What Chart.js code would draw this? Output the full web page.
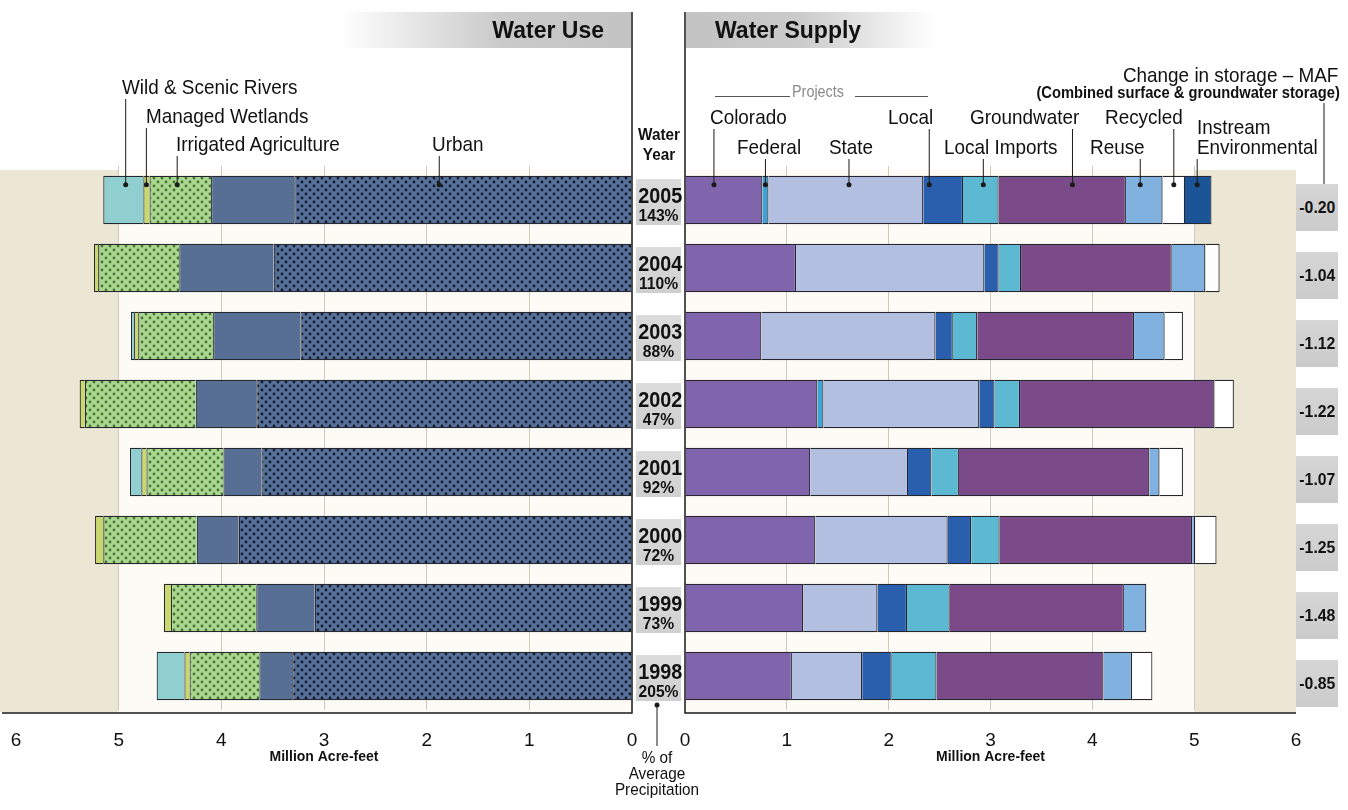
<!DOCTYPE html>
<html>
<head>
<meta charset="utf-8">
<script src="https://cdn.jsdelivr.net/npm/chart.js@4.4.1/dist/chart.umd.min.js"></script>
<style>
body{margin:0;background:#fff;}
#wrap{position:relative;width:1348px;height:810px;overflow:hidden;font-family:"Liberation Sans",Arial,sans-serif;color:#111;}
canvas{position:absolute;top:0;}
.lab{position:absolute;white-space:nowrap;font-size:21px;line-height:1;transform:translateY(-50%) scaleX(0.9);transform-origin:left center;}
.head{position:absolute;top:12px;height:36px;line-height:36px;font-weight:bold;font-size:23px;}
.yr{position:absolute;left:636px;width:45px;height:46px;background:linear-gradient(#dcdcdc,#cfcfcf);text-align:center;font-weight:bold;}
.yr b{display:block;font-size:22px;line-height:22px;margin-top:6px;transform:scaleX(0.9);}
.yr span{display:block;font-size:17px;line-height:18px;transform:scaleX(0.92);}
.st{position:absolute;left:1296px;width:42px;height:47px;background:linear-gradient(#d6d6d6,#cbcbcb);text-align:center;font-weight:bold;font-size:17px;}
.st span{display:inline-block;transform:scaleX(0.93);}
</style>
</head>
<body>
<div id="wrap">
<canvas id="useChart" width="660" height="810" style="left:0"></canvas>
<canvas id="supplyChart" width="688" height="810" style="left:660px"></canvas>
</div>
<script>
// water years, top to bottom
var years = ['2005', '2004', '2003', '2002', '2001', '2000', '1999', '1998'];
var precip = ['143%', '110%', '88%', '47%', '92%', '72%', '73%', '205%'];
var storageChange = ['-0.20', '-1.04', '-1.12', '-1.22', '-1.07', '-1.25', '-1.48', '-0.85'];
var axisTicks = [0, 1, 2, 3, 4, 5, 6];

// water use, million acre-feet (stacked outward from 0)
var urbanDotted = [3.29, 3.49, 3.23, 3.66, 3.61, 3.83, 3.09, 3.31];
var urbanSolid = [0.81, 0.92, 0.85, 0.59, 0.37, 0.41, 0.57, 0.32];
var irrigatedAg = [0.60, 0.79, 0.73, 1.08, 0.75, 0.91, 0.83, 0.68];
var wetlands = [0.06, 0.04, 0.04, 0.05, 0.05, 0.08, 0.07, 0.05];
var wildScenic = [0.39, 0, 0.03, 0, 0.11, 0, 0, 0.27];

// water supply, million acre-feet
var colorado = [0.76, 1.09, 0.75, 1.30, 1.23, 1.28, 1.16, 1.05];
var federal = [0.06, 0, 0, 0.06, 0, 0, 0, 0];
var stateProj = [1.52, 1.85, 1.71, 1.53, 0.96, 1.30, 0.73, 0.69];
var localProj = [0.39, 0.14, 0.17, 0.15, 0.23, 0.23, 0.29, 0.29];
var localImports = [0.35, 0.22, 0.24, 0.25, 0.27, 0.28, 0.42, 0.44];
var groundwater = [1.25, 1.48, 1.54, 1.91, 1.87, 1.89, 1.71, 1.64];
var reuse = [0.36, 0.33, 0.30, 0, 0.10, 0.03, 0.22, 0.28];
var recycled = [0.22, 0.14, 0.18, 0.19, 0.23, 0.21, 0, 0.20];
var instream = [0.26, 0, 0, 0, 0, 0, 0, 0];

var FONT = '"Liberation Sans", Arial, sans-serif';

function dots(base, dot){
    var c = document.createElement('canvas');
    c.width = 8; c.height = 8;
    var g = c.getContext('2d');
    g.fillStyle = base; g.fillRect(0, 0, 8, 8);
    g.fillStyle = dot;
    [[2, 2], [6, 6]].forEach(function(p){
        g.beginPath(); g.arc(p[0], p[1], 1.4, 0, Math.PI * 2); g.fill();
    });
    return g.createPattern(c, 'repeat');
}

function ds(label, data, color){
    return {label: label, data: data, backgroundColor: color, borderColor: '#26262e', borderWidth: 1.2,
            barPercentage: 0.71, categoryPercentage: 1};
}

// labels with leader lines (text spot, dataset, where on the 2005 bar)
var useLabels = [
    {text: 'Wild & Scenic Rivers', left: 122, top: 86, ds: 4, frac: 0.44, lineTop: 99},
    {text: 'Managed Wetlands', left: 146, top: 115, ds: 3, frac: 0.5, lineTop: 128},
    {text: 'Irrigated Agriculture', left: 176, top: 143, ds: 2, frac: 0.55, lineTop: 156},
    {text: 'Urban', left: 432, top: 143, ds: 0, frac: 0.57, lineTop: 156}
];
var supplyLabels = [
    {text: 'Colorado', left: 710, top: 116, ds: 0, frac: 0.37, lineTop: 129},
    {text: 'Federal', left: 737, top: 146, ds: 1, frac: 0.5, lineTop: 159},
    {text: 'State', left: 829, top: 146, ds: 2, frac: 0.52, lineTop: 159},
    {text: 'Local', left: 888, top: 116, ds: 3, frac: 0.15, lineTop: 129},
    {text: 'Local Imports', left: 944, top: 146, ds: 4, frac: 0.57, lineTop: 159},
    {text: 'Groundwater', left: 970, top: 116, ds: 5, frac: 0.58, lineTop: 129},
    {text: 'Recycled', left: 1105, top: 116, ds: 7, frac: 0.5, lineTop: 129},
    {text: 'Reuse', left: 1090, top: 146, ds: 6, frac: 0.39, lineTop: 159},
    {text: 'Instream<br>Environmental', left: 1197, top: 137, ds: 8, frac: 0.46, lineTop: 159}
];

function panelPlugin(labels, offsetX, side){
    return {
        id: 'panel' + side,
        beforeDraw: function(chart){
            var c = chart.ctx, a = chart.chartArea, x = chart.scales.x;
            var x0 = x.getPixelForValue(0), x5 = x.getPixelForValue(5), x6 = x.getPixelForValue(6);
            c.save();
            c.fillStyle = '#fcfbf6';
            c.fillRect(Math.min(x0, x5), a.top + 4, Math.abs(x5 - x0), a.bottom - a.top - 2);
            c.fillStyle = '#ece7d5';
            if (side === 'L') c.fillRect(0, a.top + 4, x5, a.bottom - a.top - 2);
            else c.fillRect(x5, a.top + 4, x6 - x5, a.bottom - a.top - 2);
            c.restore();
        },
        afterDatasetsDraw: function(chart){
            var c = chart.ctx, a = chart.chartArea, x = chart.scales.x;
            var x0 = x.getPixelForValue(0);
            c.save();
            c.strokeStyle = '#1a1a1a';
            c.lineWidth = 1.5;
            c.beginPath();
            c.moveTo(x0, 12); c.lineTo(x0, a.bottom + 3);
            if (side === 'L') c.lineTo(2, a.bottom + 3);
            else c.lineTo(x.getPixelForValue(6), a.bottom + 3);
            c.stroke();
            c.lineWidth = 1;
            c.fillStyle = '#1a1a1a';
            labels.forEach(function(l){
                var bar = chart.getDatasetMeta(l.ds).data[0];
                var px = bar.base + (bar.x - bar.base) * l.frac;
                var py = bar.y - bar.height / 2 + 9;
                c.beginPath(); c.moveTo(px, l.lineTop); c.lineTo(px, py); c.stroke();
                c.beginPath(); c.arc(px, py, 2.5, 0, Math.PI * 2); c.fill();
            });
            if (side === 'R') {
                // change in storage leader
                var sx = 1324 - offsetX, sy = chart.scales.y.getPixelForValue(0) - 11;
                c.beginPath(); c.moveTo(sx, 103); c.lineTo(sx, sy); c.stroke();
                c.beginPath(); c.arc(sx, sy, 2.5, 0, Math.PI * 2); c.fill();
            } else {
                // % of average precipitation leader
                var lx = 657, ly = a.bottom - 5;
                c.beginPath(); c.moveTo(lx, ly); c.lineTo(lx, 746); c.stroke();
                c.beginPath(); c.arc(lx, ly, 2.5, 0, Math.PI * 2); c.fill();
            }
            c.restore();
        }
    };
}

function xScale(reverse){
    return {
        stacked: true, reverse: reverse, min: 0, max: 6,
        afterBuildTicks: function(s){ s.ticks = axisTicks.map(function(v){ return {value: v}; }); },
        afterFit: function(s){ s.height = 100; },
        ticks: {color: '#111', font: {family: FONT, size: 19}, padding: 19},
        grid: {drawTicks: false,
               color: function(ctx){ var v = ctx.tick ? ctx.tick.value : 0; return (v === 0 || v === 6) ? 'rgba(0,0,0,0)' : '#cfcabb'; }},
        border: {display: false},
        title: {display: true, text: 'Million Acre-feet', color: '#111',
                font: {family: FONT, size: 14, weight: 'bold'}, padding: {top: 0, bottom: 44}}
    };
}

var useChart = new Chart(document.getElementById('useChart').getContext('2d'), {
    type: 'bar',
    data: {
        labels: years,
        datasets: [
            ds('Urban', urbanDotted, dots('#55709a', '#141a26')),
            ds('Urban', urbanSolid, '#586f95'),
            ds('Irrigated Agriculture', irrigatedAg, dots('#a8d68d', '#46743a')),
            ds('Managed Wetlands', wetlands, '#c9d86c'),
            ds('Wild & Scenic Rivers', wildScenic, '#90cfd0')
        ]
    },
    options: {
        indexAxis: 'y', responsive: false, animation: false,
        layout: {padding: {left: 16, right: 28, top: 166, bottom: 0}},
        plugins: {legend: {display: false}, tooltip: {enabled: false}},
        scales: {x: xScale(true), y: {stacked: true, display: false}}
    },
    plugins: [panelPlugin(useLabels, 0, 'L')]
});

var supplyChart = new Chart(document.getElementById('supplyChart').getContext('2d'), {
    type: 'bar',
    data: {
        labels: years,
        datasets: [
            ds('Colorado', colorado, '#8165ac'),
            ds('Federal', federal, '#3fa3d6'),
            ds('State', stateProj, '#b3bfe0'),
            ds('Local', localProj, '#2a5fad'),
            ds('Local Imports', localImports, '#5db8d2'),
            ds('Groundwater', groundwater, '#7a4b88'),
            ds('Reuse', reuse, '#80b1df'),
            ds('Recycled', recycled, '#ffffff'),
            ds('Instream Environmental', instream, '#1b5597')
        ]
    },
    options: {
        indexAxis: 'y', responsive: false, animation: false,
        layout: {padding: {left: 25, right: 52, top: 166, bottom: 0}},
        plugins: {legend: {display: false}, tooltip: {enabled: false}},
        scales: {x: xScale(false), y: {stacked: true, display: false}}
    },
    plugins: [panelPlugin(supplyLabels, 660, 'R')]
});

// text: headers, labels, year and storage boxes
var wrap = document.getElementById('wrap');
function add(html, cls, style){
    var d = document.createElement('div');
    d.className = cls; d.innerHTML = html; d.style.cssText = style;
    wrap.appendChild(d);
    return d;
}
add('Water Use', 'head', 'left:340px;width:264px;padding-right:27px;text-align:right;background:linear-gradient(to right,rgba(200,200,200,0),#cacaca 55%,#c3c3c3);');
add('Water Supply', 'head', 'left:686px;width:220px;padding-left:29px;background:linear-gradient(to right,#c3c3c3,#cacaca 45%,rgba(200,200,200,0));');

useLabels.concat(supplyLabels).forEach(function(l){
    add(l.text, 'lab', 'left:' + l.left + 'px;top:' + l.top + 'px;' + (l.text.indexOf('<br>') > 0 ? 'line-height:20px;' : ''));
});
add('Water<br>Year', 'lab', 'left:634px;width:50px;top:145px;text-align:center;font-weight:bold;font-size:17px;line-height:20px;transform-origin:center;');
add('Projects', 'lab', 'left:792px;top:92px;font-size:16px;color:#8a8a8a;');
add('', 'lab', 'left:715px;top:96px;width:75px;border-top:1px solid #555;transform:none;');
add('', 'lab', 'left:855px;top:96px;width:73px;border-top:1px solid #555;transform:none;');
add('Change in storage \u2013 MAF', 'lab', 'right:10px;top:74px;transform-origin:right center;');
add('(Combined surface &amp; groundwater storage)', 'lab', 'right:8px;top:93px;font-size:16px;font-weight:bold;transform:translateY(-50%) scaleX(0.92);transform-origin:right center;');
add('% of<br>Average<br>Precipitation', 'lab', 'left:607px;width:100px;top:774px;text-align:center;font-size:17px;line-height:16px;transform-origin:center;');

years.forEach(function(y, i){
    var cy = useChart.scales.y.getPixelForValue(i);
    add('<b>' + y + '</b><span>' + precip[i] + '</span>', 'yr', 'top:' + Math.round(cy - 21) + 'px;');
    add('<span>' + storageChange[i] + '</span>', 'st', 'top:' + Math.round(cy - 16) + 'px;line-height:47px;');
});
</script>
</body>
</html>
